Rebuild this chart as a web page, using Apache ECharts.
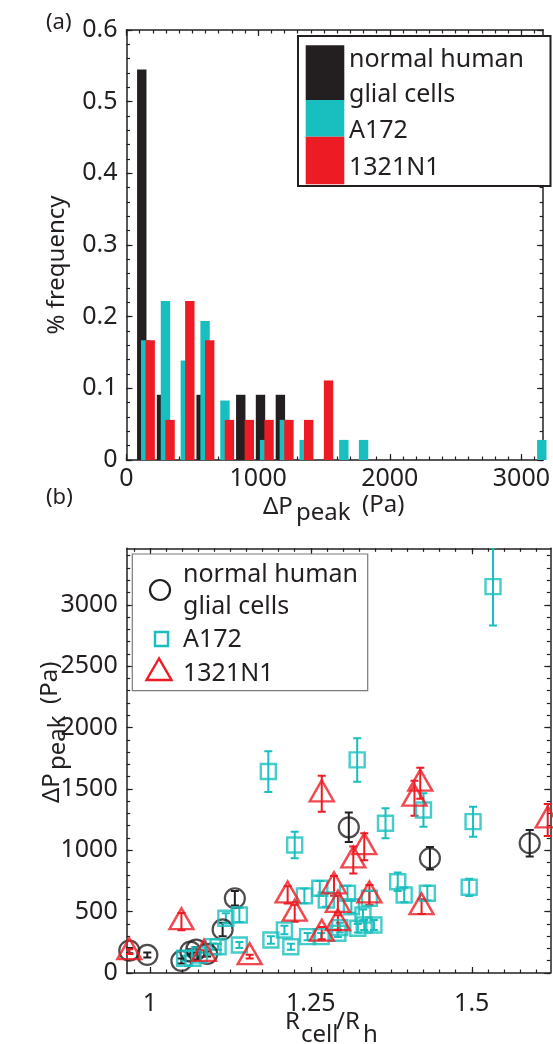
<!DOCTYPE html>
<html>
<head>
<meta charset="utf-8">
<title>Pressure drop histogram and scatter</title>
<script src="https://cdn.jsdelivr.net/npm/echarts@6/dist/echarts.min.js"></script>
<style>
  html, body { margin: 0; padding: 0; background: #fff; }
  #chart { width: 553px; height: 1044px; }
</style>
</head>
<body>
<div id="chart"></div>
<script>
// ---- (a) histogram: bin positions (Pa) and frequency per cell line ----
var histGlialX = [116, 266, 567, 868, 1018, 1169];
var histGlialY = [0.545, 0.091, 0.091, 0.091, 0.091, 0.091];
var histA172X = [146, 296, 447, 597, 748, 1049, 1199, 1350, 1651, 1801, 3155];
var histA172Y = [0.167, 0.222, 0.139, 0.194, 0.083, 0.028, 0.056, 0.028, 0.028, 0.028, 0.028];
var hist1321X = [180, 331, 481, 632, 782, 933, 1083, 1234, 1384, 1535];
var hist1321Y = [0.167, 0.056, 0.222, 0.167, 0.056, 0.056, 0.056, 0.056, 0.056, 0.111];

// ---- (b) scatter: Rcell/Rh, dP peak (Pa), error (Pa) ----
var glialX = [0.968, 0.996, 1.049, 1.063, 1.072, 1.089, 1.113, 1.132, 1.309, 1.435, 1.590];
var glialY = [182, 147, 98, 174, 190, 155, 355, 609, 1187, 935, 1057];
var glialErr = [22, 20, 20, 20, 20, 20, 55, 60, 120, 92, 108];

var a172X = [1.533, 1.322, 1.425, 1.366, 1.502, 1.225, 1.184,
  1.385, 1.395, 1.431, 1.496, 1.240, 1.264, 1.274, 1.307, 1.341, 1.313,
  1.331, 1.333, 1.348, 1.323, 1.295, 1.292, 1.266, 1.245, 1.209, 1.188,
  1.219, 1.139, 1.106, 1.098, 1.118, 1.139, 1.077, 1.054, 1.067];
var a172Y = [3148, 1736, 1328, 1220, 1233, 1043, 1641,
  744, 636, 650, 698, 628, 690, 595, 650, 609, 540,
  473, 391, 391, 364, 370, 324, 296, 296, 350, 269,
  214, 228, 214, 215, 446, 473, 147, 120, 120];
var a172Err = [317, 177, 136, 122, 122, 108, 166,
  75, 60, 60, 70, 60, 60, 55, 60, 60, 50,
  45, 40, 40, 35, 40, 30, 30, 30, 35, 30,
  25, 25, 25, 25, 40, 58, 20, 20, 20];

var n1321X = [0.968, 1.049, 1.084, 1.155, 1.214, 1.225, 1.267, 1.286, 1.292,
  1.292, 1.341, 1.422, 1.316, 1.333, 1.267, 1.420, 1.411, 1.618];
var n1321Y = [174, 418, 160, 133, 636, 487, 324, 710, 560,
  410, 636, 540, 921, 1029, 1460, 1546, 1424, 1247];
var n1321Err = [20, 70, 25, 15, 70, 70, 50, 80, 70,
  60, 80, 60, 110, 110, 147, 127, 143, 130];

// tick labels
var histXTicks = [0, 1000, 2000, 3000];
var histYTicks = [0, 0.1, 0.2, 0.3, 0.4, 0.5, 0.6];
var scatXTicks = [1, 1.25, 1.5];
var scatYTicks = [0, 500, 1000, 1500, 2000, 2500, 3000];

var INK = '#231f20';
var CYAN = '#19bfbf';
var RED = '#ed1c24';
var FONT = 'Noto Sans';

function steps(from, to, step) {
  var out = [];
  for (var v = from; v <= to + step / 2; v += step) out.push(Math.round(v * 1000) / 1000);
  return out;
}

// major + minor ticks on both sides of a box (matlab style)
function boxAxes(dim, grid, min, max, majors, minors, labelOpt) {
  var sides = dim === 'x' ? ['bottom', 'top'] : ['left', 'right'];
  var out = [];
  sides.forEach(function (side, i) {
    [true, false].forEach(function (isMajor) {
      out.push({
        type: 'value', gridIndex: grid, position: side, min: min, max: max,
        axisLine: { show: isMajor, onZero: false, lineStyle: { color: INK, width: 1.5 } },
        axisTick: {
          show: true, inside: true, length: isMajor ? 6 : 3.5,
          customValues: isMajor ? majors : minors,
          lineStyle: { color: INK, width: 1.2 }
        },
        axisLabel: (i === 0 && isMajor) ? Object.assign({
          show: true, customValues: majors, color: INK,
          fontFamily: FONT, fontSize: 25,
          formatter: function (v) { return String(v); }
        }, labelOpt) : { show: false },
        splitLine: { show: false }
      });
    });
  });
  return out;
}

function zip3(a, b, c) {
  return a.map(function (v, i) { return c ? [v, b[i], c[i]] : [v, b[i]]; });
}

function errorBars(color) {
  return function (params, api) {
    var x = api.value(0), y = api.value(1), e = api.value(2);
    var hi = api.coord([x, y + e]);
    var lo = api.coord([x, y - e]);
    var w = 4;
    var st = { stroke: color, lineWidth: 2 };
    return {
      type: 'group',
      children: [
        { type: 'line', shape: { x1: hi[0], y1: hi[1], x2: lo[0], y2: lo[1] }, style: st },
        { type: 'line', shape: { x1: hi[0] - w, y1: hi[1], x2: hi[0] + w, y2: hi[1] }, style: st },
        { type: 'line', shape: { x1: lo[0] - w, y1: lo[1], x2: lo[0] + w, y2: lo[1] }, style: st }
      ]
    };
  };
}

function txt(x, y, s, size, rot, align) {
  return {
    type: 'text', x: x, y: y, z: 20, rotation: rot || 0,
    style: {
      text: s, fill: INK, font: (size || 24) + 'px "Noto Sans"',
      textAlign: align || 'left', textVerticalAlign: 'middle'
    }
  };
}

var myChart = echarts.init(document.getElementById('chart'));
var UP = Math.PI / 2;

var option = {
  animation: false,
  backgroundColor: '#fff',
  grid: [
    { left: 126.5, top: 30, width: 425.5, height: 430, containLabel: false },
    { left: 126.7, top: 548.3, width: 423.6, height: 424.7, containLabel: false }
  ],
  xAxis: []
    .concat(boxAxes('x', 0, 0, 3165, histXTicks, steps(0, 3100, 100), { margin: 6 }))
    .concat(boxAxes('x', 1, 0.964, 1.622, scatXTicks, steps(0.975, 1.6, 0.025), { margin: 18 })),
  yAxis: []
    .concat(boxAxes('y', 0, 0, 0.6, histYTicks, steps(0, 0.6, 0.02), {
      margin: 9, formatter: function (v) { return v === 0 ? '0' : v.toFixed(1); }
    }))
    .concat(boxAxes('y', 1, 0, 3460, scatYTicks, steps(0, 3400, 100), { margin: 9 })),
  series: [
    { type: 'bar', xAxisIndex: 0, yAxisIndex: 0, barWidth: 9.4, barGap: '-100%',
      itemStyle: { color: INK }, data: zip3(histGlialX, histGlialY) },
    { type: 'bar', xAxisIndex: 0, yAxisIndex: 0, barWidth: 9.4, barGap: '-100%',
      itemStyle: { color: CYAN }, data: zip3(histA172X, histA172Y) },
    { type: 'bar', xAxisIndex: 0, yAxisIndex: 0, barWidth: 9.4, barGap: '-100%',
      itemStyle: { color: RED }, data: zip3(hist1321X, hist1321Y) },

    { type: 'custom', xAxisIndex: 4, yAxisIndex: 4, clip: true, renderItem: errorBars(INK),
      encode: { x: 0, y: 1 }, data: zip3(glialX, glialY, glialErr) },
    { type: 'scatter', xAxisIndex: 4, yAxisIndex: 4, symbol: 'circle', symbolSize: 20,
      itemStyle: { color: 'rgba(0,0,0,0)', borderColor: INK, borderWidth: 2.2 },
      data: zip3(glialX, glialY) },
    { type: 'custom', xAxisIndex: 4, yAxisIndex: 4, clip: true, renderItem: errorBars(CYAN),
      encode: { x: 0, y: 1 }, data: zip3(a172X, a172Y, a172Err) },
    { type: 'scatter', xAxisIndex: 4, yAxisIndex: 4, symbol: 'rect', symbolSize: 15,
      itemStyle: { color: 'rgba(0,0,0,0)', borderColor: CYAN, borderWidth: 2.4 },
      data: zip3(a172X, a172Y) },
    { type: 'custom', xAxisIndex: 4, yAxisIndex: 4, clip: true, renderItem: errorBars(RED),
      encode: { x: 0, y: 1 }, data: zip3(n1321X, n1321Y, n1321Err) },
    { type: 'scatter', xAxisIndex: 4, yAxisIndex: 4, symbol: 'triangle', symbolSize: [24, 21],
      symbolOffset: [0, -3],
      itemStyle: { color: 'rgba(0,0,0,0)', borderColor: RED, borderWidth: 2.4 },
      data: zip3(n1321X, n1321Y) }
  ],
  graphic: [
    // panel letters and axis titles
    txt(46, 23, '(a)', 22),
    txt(46, 498, '(b)', 22),
    txt(57, 265, '% frequency', 24, UP, 'center'),
    txt(263, 507, '\u0394P'),
    txt(296, 513, 'peak'),
    txt(362, 505, '(Pa)'),
    txt(52, 803, '\u0394P', 24, UP),
    txt(58, 770, 'peak', 24, UP),
    txt(50, 704, '(Pa)', 24, UP),
    txt(285, 1022, 'R'),
    txt(301, 1035, 'cell'),
    txt(336, 1022, '/R'),
    txt(363, 1035, 'h'),

    // legend (a)
    { type: 'rect', z: 10, shape: { x: 298, y: 36, width: 252.5, height: 150 },
      style: { fill: '#fff', stroke: INK, lineWidth: 2 } },
    { type: 'rect', z: 11, shape: { x: 305.7, y: 45.3, width: 38.6, height: 54.7 }, style: { fill: INK } },
    { type: 'rect', z: 11, shape: { x: 305.7, y: 100, width: 38.6, height: 36.7 }, style: { fill: CYAN } },
    { type: 'rect', z: 11, shape: { x: 305.7, y: 136.7, width: 38.6, height: 47.6 }, style: { fill: RED } },
    txt(349, 60, 'normal human', 25),
    txt(349, 95, 'glial cells', 25),
    txt(349, 131, 'A172', 25),
    txt(349, 168, '1321N1', 25),

    // legend (b)
    { type: 'rect', z: 10, shape: { x: 132.3, y: 554, width: 235.4, height: 136.7 },
      style: { fill: '#fff', stroke: '#7a7a7a', lineWidth: 1.2 } },
    { type: 'circle', z: 11, shape: { cx: 160, cy: 590, r: 10 },
      style: { fill: 'none', stroke: INK, lineWidth: 2.2 } },
    { type: 'rect', z: 11, shape: { x: 155, y: 632, width: 13, height: 14 },
      style: { fill: 'none', stroke: CYAN, lineWidth: 2.4 } },
    { type: 'polygon', z: 11, shape: { points: [[159, 658.5], [146.5, 680], [171.5, 680]] },
      style: { fill: 'none', stroke: RED, lineWidth: 2.4 } },
    txt(183, 574.5, 'normal human', 25),
    txt(183, 607, 'glial cells', 25),
    txt(183, 639.5, 'A172', 25),
    txt(183, 673.5, '1321N1', 25)
  ]
};

myChart.setOption(option);
</script>
</body>
</html>
